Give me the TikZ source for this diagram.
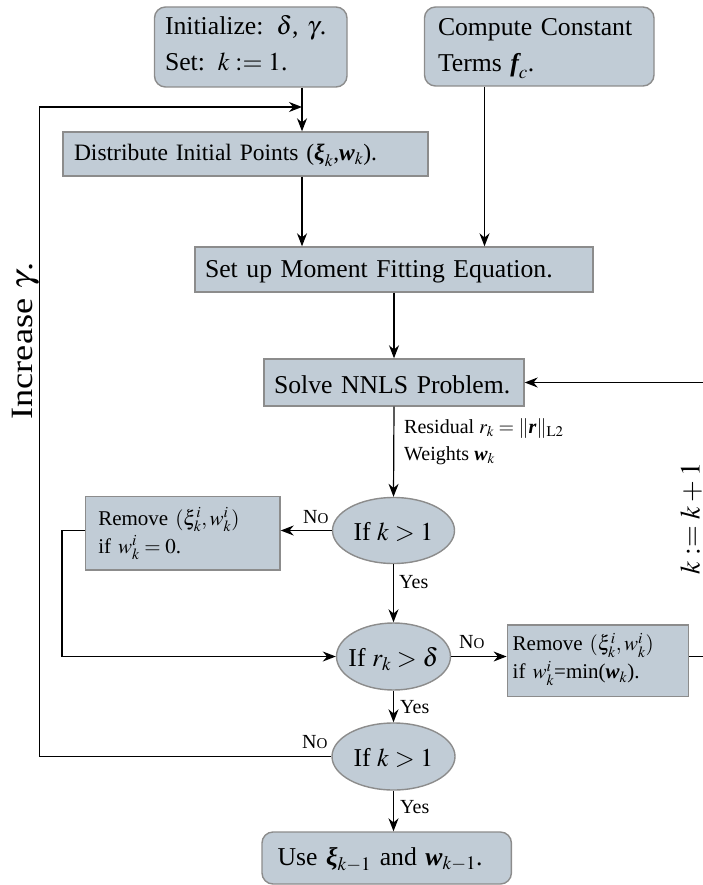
\documentclass[tikz,border=0pt]{standalone}
\usepackage{amsmath}
\usepackage{mathptmx}
\usepackage[no-math]{fontspec}
\setmainfont{Liberation Serif}
\usetikzlibrary{arrows.meta,shapes.geometric}
\definecolor{boxfill}{HTML}{C1CCD6}
\definecolor{boxline}{HTML}{8C8C8C}
\newcommand{\bv}[1]{\text{\normalfont\bfseries\itshape #1}}
\newcommand{\mainf}{\fontsize{25.7}{36}\selectfont}
\newcommand{\distf}{\fontsize{23.5}{30}\selectfont}
\newcommand{\remf}{\fontsize{21}{28}\selectfont}
\newcommand{\labf}{\fontsize{20}{27}\selectfont}
\newcommand{\nolab}{N{\fontsize{15}{15}\selectfont O}}
\begin{document}
\begin{tikzpicture}[x=1pt,y=-1pt,
  shp/.style={draw=boxline, fill=boxfill, line width=1.4pt},
  sq/.style={shp, rectangle, inner ysep=0pt, align=left},
  rsq/.style={sq, rounded corners=11pt},
  dec/.style={shp, ellipse, inner sep=0pt, text height=20pt, text depth=0pt, font=\mainf},
  arr/.style={line width=1.2pt, -{Stealth[length=13pt,width=10pt]}},
  lab/.style={inner sep=0pt, anchor=base west, font=\labf}]
\useasboundingbox (0,0) rectangle (702,885);

% boxes
\node[rsq, font=\mainf, minimum width=192.5pt, minimum height=80pt, inner xsep=10.5pt,
      text width=171.5pt, text height=18pt, text depth=42pt] (init) at (250.75,47)
  {\mbox{Initialize: $\delta$, $\gamma$.}\\\mbox{Set: $k \mathrel{:=} 1$.}};
\node[rsq, font=\mainf, minimum width=229.5pt, minimum height=79pt, inner xsep=13.5pt,
      text width=202.5pt, text height=18pt, text depth=39pt] (comp) at (539.25,46.5)
  {\mbox{Compute Constant}\\\mbox{Terms $\bv{f}_{c}$.}};
\node[sq, font=\distf, minimum width=365pt, minimum height=44pt, inner xsep=11pt,
      text width=343pt, text height=14pt, text depth=0pt] (dist) at (245.5,154)
  {\mbox{Distribute Initial Points ($\bv{ξ}_k$,$\bv{w}_k$).}};
\node[sq, font=\mainf, minimum width=398pt, minimum height=45pt, inner xsep=10pt,
      text width=378pt, text height=16.2pt, text depth=0pt] (setup) at (394,269.5)
  {\mbox{Set up Moment Fitting Equation.}};
\node[sq, font=\mainf, minimum width=260pt, minimum height=47pt, inner xsep=10pt,
      text width=240pt, text height=21.6pt, text depth=0pt] (solve) at (394,382.5)
  {\mbox{Solve NNLS Problem.}};
\node[sq, font=\remf, minimum width=194.3pt, minimum height=73.3pt, inner xsep=12.6pt,
      text width=169.1pt, text height=14pt, text depth=30.8pt] (rem1) at (182.85,533.4)
  {\mbox{Remove $(\xi_k^i, w_k^i)$}\\\mbox{if $w_k^i = 0$.}};
\node[sq, font=\remf, minimum width=181pt, minimum height=71.7pt, inner xsep=5.4pt,
      text width=170.2pt, text height=14pt, text depth=33.8pt] (rem2) at (597.8,660.85)
  {\mbox{Remove $(\xi_k^i, w_k^i)$}\\\mbox{if $w_k^i$=min($\bv{w}_k$).}};
\node[rsq, font=\mainf, minimum width=249.4pt, minimum height=52pt, inner xsep=15.6pt,
      text width=218.2pt, text height=14pt, text depth=0pt] (final) at (386.7,858)
  {\mbox{Use $\bv{ξ}_{k-1}$ and $\bv{w}_{k-1}$.}};

% decisions
\node[dec, minimum width=122pt, minimum height=66pt] (e1) at (393.5,530.5) {\makebox[0pt]{If $k > 1$}};
\node[dec, minimum width=114pt, minimum height=67pt] (e2) at (393.5,656.5) {\makebox[0pt]{If $r_k > \delta$}};
\node[dec, minimum width=123pt, minimum height=67pt] (e3) at (393.5,756.5) {\makebox[0pt]{If $k > 1$}};

% helper coordinates
\coordinate (ja) at (302,107);
\coordinate (fb) at (39.4,107);
\coordinate (jb) at (484.5,200);
\coordinate (jc) at (62,600);
\coordinate (jd) at (708,500);

% connectors
\draw[arr] (init.south -| ja) -- (dist.north -| ja);
\draw[arr] (e3.west) -| (fb) -- (ja);
\draw[arr] (dist.south -| ja) -- (setup.north -| ja);
\draw[arr] (comp.south -| jb) -- (setup.north -| jb);
\draw[arr] (setup.south) -- (solve.north);
\draw[arr] (solve.south) -- (e1.north);
\draw[arr] (e1.west) -- (e1.west -| rem1.east);
\draw[arr] (e1.west -| rem1.west) -| (jc) |- (e2.west);
\draw[arr] (e1.south) -- (e2.north);
\draw[arr] (e2.east) -- (e2.east -| rem2.west);
\draw[arr] (e2.east -| rem2.east) -| (jd) |- (solve.east);
\draw[arr] (e2.south) -- (e3.north);
\draw[arr] (e3.south) -- (e3.south |- final.north);

% labels
\node[lab] (res) at (404,433) {Residual $r_k = \|\bv{r}\|_{\mathrm{L2}}$};
\node[lab] (wts) at (404,460.5) {Weights $\bv{w}_k$};
\node[lab] (no1) at (303,523) {\nolab};
\node[lab] (yes1) at (399,588) {Yes};
\node[lab] (no2) at (459,648) {\nolab};
\node[lab] (yes2) at (400,713) {Yes};
\node[lab] (no3) at (302,748) {\nolab};
\node[lab] (yes3) at (400,813) {Yes};

% rotated labels
\node[rotate=90, anchor=base, inner sep=0pt, font=\fontsize{31}{31}\selectfont] (inc) at (32.5,341)
  {\scalebox{1.17}[1]{Increase $\gamma$.}};
\node[rotate=90, anchor=base, inner sep=0pt, font=\fontsize{28}{28}\selectfont] (kk) at (699.5,518.5)
  {$k := k + 1$};
\end{tikzpicture}
\end{document}
